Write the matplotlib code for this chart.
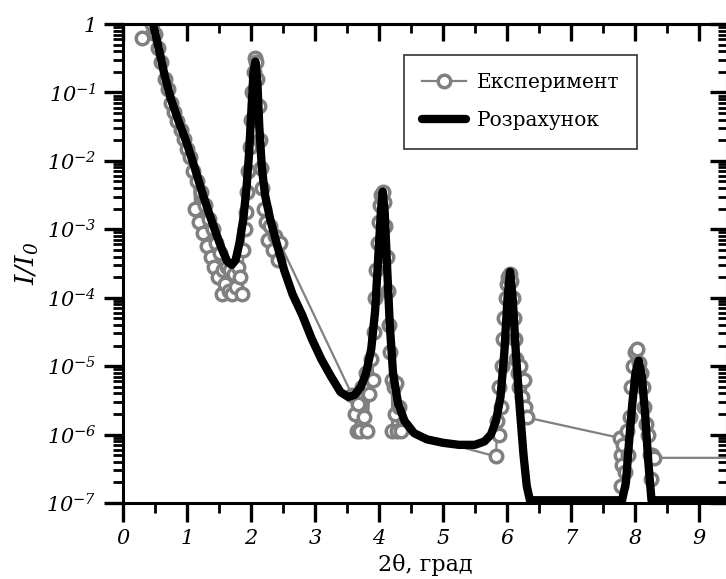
import numpy as np
import matplotlib.pyplot as plt
from matplotlib.ticker import FixedLocator, MultipleLocator, NullFormatter

plt.rcParams['font.family'] = ['DejaVu Serif']
plt.rcParams['mathtext.fontset'] = 'custom'
plt.rcParams['mathtext.rm'] = 'DejaVu Serif:italic'
plt.rcParams['mathtext.it'] = 'DejaVu Serif:italic'
plt.rcParams['mathtext.bf'] = 'DejaVu Serif:bold'

# --- розрахунок (x, lg I/I0) ---
calc_x = [0.30, 0.40, 0.47, 0.52, 0.58, 0.65, 0.75, 0.88, 1.00, 1.12, 1.25, 1.35,
          1.45, 1.55, 1.63, 1.70, 1.76, 1.82, 1.88, 1.93, 1.97, 2.01, 2.04, 2.07,
          2.10, 2.13, 2.17, 2.22, 2.30, 2.40, 2.52, 2.65, 2.80, 2.95, 3.10, 3.25,
          3.40, 3.52, 3.62, 3.72, 3.80, 3.88, 3.94, 3.99, 4.03, 4.06, 4.09, 4.13,
          4.17, 4.22, 4.30, 4.40, 4.55, 4.75, 5.00, 5.25, 5.50, 5.65, 5.75, 5.83,
          5.90, 5.96, 6.01, 6.05, 6.09, 6.14, 6.20, 6.26, 6.31, 6.36, 6.45, 7.80,
          7.86, 7.91, 7.96, 8.01, 8.06, 8.11, 8.16, 8.21, 8.26, 9.60]
calc_lg = [0.35, 0.15, 0.0, -0.2, -0.45, -0.75, -1.1, -1.45, -1.75, -2.1, -2.5, -2.78,
           -3.05, -3.3, -3.47, -3.52, -3.45, -3.2, -2.85, -2.4, -1.9, -1.2, -0.7, -0.55,
           -0.85, -1.5, -2.1, -2.5, -2.85, -3.2, -3.6, -3.95, -4.25, -4.6, -4.9, -5.15,
           -5.38, -5.45, -5.42, -5.3, -5.1, -4.75, -4.2, -3.4, -2.75, -2.45, -2.75, -3.6,
           -4.4, -5.1, -5.55, -5.8, -5.98, -6.07, -6.12, -6.15, -6.15, -6.1, -6.0, -5.8,
           -5.45, -4.8, -4.0, -3.62, -4.0, -4.8, -5.6, -6.3, -6.75, -6.96, -6.96, -6.96,
           -6.7, -6.1, -5.55, -5.1, -4.92, -5.15, -5.7, -6.4, -6.96, -6.96]

# --- експеримент (x, lg I/I0) ---
exp_x = [0.30, 0.45, 0.50, 0.55, 0.60, 0.65, 0.70, 0.75, 0.80, 0.85, 0.90, 0.95,
         1.00, 1.05, 1.10, 1.13, 1.16, 1.19, 1.22, 1.25, 1.28, 1.31, 1.34, 1.37,
         1.40, 1.43, 1.46, 1.49, 1.52, 1.54, 1.56, 1.59, 1.62, 1.65, 1.68, 1.71,
         1.74, 1.77, 1.80, 1.83, 1.86, 1.88, 1.90, 1.92, 1.94, 1.96, 1.98, 2.00,
         2.02, 2.04, 2.06, 2.08, 2.10, 2.12, 2.14, 2.16, 2.18, 2.20, 2.23, 2.26,
         2.30, 2.34, 2.38, 2.42, 2.45,
         3.58, 3.62, 3.65, 3.68, 3.71, 3.74, 3.77, 3.80, 3.82, 3.85, 3.87, 3.90,
         3.92, 3.94, 3.96, 3.98, 4.00, 4.02, 4.04, 4.06, 4.08, 4.10, 4.12, 4.14,
         4.16, 4.18, 4.20, 4.21, 4.23, 4.25, 4.27, 4.29, 4.32, 4.35,
         5.83, 5.85, 5.87, 5.88, 5.90, 5.92, 5.94, 5.96, 5.98, 6.00, 6.02, 6.05,
         6.07, 6.09, 6.11, 6.13, 6.15, 6.17, 6.19, 6.21, 6.23, 6.26, 6.29, 6.31,
         7.77, 7.79, 7.80, 7.79, 7.82, 7.85, 7.87, 7.90, 7.92, 7.94, 7.97, 8.00,
         8.03, 8.06, 8.09, 8.12, 8.15, 8.18, 8.21, 8.23, 8.25, 8.27, 8.30, 9.60]
exp_lg = [-0.2, 0.0, -0.15, -0.35, -0.55, -0.8, -0.95, -1.15, -1.28, -1.42, -1.55, -1.68,
          -1.82, -1.95, -2.15, -2.7, -2.3, -2.9, -2.45, -3.05, -2.65, -3.25, -2.85, -3.4,
          -3.0, -3.55, -3.2, -3.7, -3.35, -3.95, -3.6, -3.8, -3.55, -3.9, -3.6, -3.95,
          -3.65, -3.85, -3.55, -3.7, -3.95, -3.3, -3.0, -2.75, -2.45, -2.15, -1.8, -1.4,
          -1.0, -0.7, -0.5, -0.55, -0.8, -1.2, -1.7, -2.1, -2.4, -2.7, -2.9, -3.15,
          -2.95, -3.3, -3.1, -3.45, -3.2,
          -5.42, -5.7, -5.95, -5.55, -5.95, -5.3, -5.75, -5.1, -5.95, -5.4, -4.9, -5.2,
          -4.5, -4.0, -3.6, -3.2, -2.9, -2.65, -2.5, -2.45, -2.6, -2.95, -3.4, -3.9,
          -4.4, -4.8, -5.2, -5.95, -5.3, -5.7, -5.25, -5.95, -5.6, -5.95,
          -6.32, -5.8, -6.0, -5.3, -5.6, -5.0, -4.6, -4.3, -4.0, -3.8, -3.7, -3.65,
          -3.75, -4.0, -4.3, -4.6, -4.9, -5.1, -5.3, -5.0, -5.45, -5.2, -5.6, -5.75,
          -6.05, -6.3, -6.45, -6.75, -6.15, -6.55, -5.95, -6.3, -5.75, -5.3, -5.0, -4.8,
          -4.75, -4.95, -5.1, -5.3, -5.6, -5.85, -6.0, -6.3, -6.65, -6.3, -6.34, -6.34]

x_ticks = [0, 1, 2, 3, 4, 5, 6, 7, 8, 9]
x_labels = [str(v) for v in x_ticks]
y_ticks = [1, 1e-1, 1e-2, 1e-3, 1e-4, 1e-5, 1e-6, 1e-7]
y_labels = ['1', '$10^{-1}$', '$10^{-2}$', '$10^{-3}$', '$10^{-4}$',
            '$10^{-5}$', '$10^{-6}$', '$10^{-7}$']

fig = plt.figure(figsize=(7.26, 5.79), dpi=100)
ax = fig.add_axes([123/726, 76/579, 604/726, 479/579])

ax.plot(exp_x, 10 ** np.array(exp_lg), '-o', color='#808080', lw=1.6,
        ms=9, mew=2.5, mfc='white', mec='#808080', label='Експеримент', zorder=2)
ax.plot(calc_x, 10 ** np.array(calc_lg), '-', color='black', lw=6,
        solid_capstyle='round', label='Розрахунок', zorder=3)

ax.set_yscale('log')
ax.set_xlim(0, 9.44)
ax.set_ylim(1e-7, 1)

ax.xaxis.set_major_locator(FixedLocator(x_ticks))
ax.xaxis.set_minor_locator(MultipleLocator(0.5))
ax.set_xticklabels(x_labels)
ax.yaxis.set_major_locator(FixedLocator(y_ticks))
ax.set_yticklabels(y_labels)
minors = [m * 10.0 ** e for e in range(-7, 0) for m in range(2, 10)]
ax.yaxis.set_minor_locator(FixedLocator(minors))
ax.yaxis.set_minor_formatter(NullFormatter())

for s in ax.spines.values():
    s.set_linewidth(2.2)
ax.tick_params(which='major', direction='out', length=14, width=2.4, labelsize=15, pad=5)
ax.tick_params(which='minor', direction='out', length=7.5, width=2.0)

# верхня і права осі з рисками всередину
top = ax.secondary_xaxis('top')
top.xaxis.set_major_locator(FixedLocator(x_ticks))
top.xaxis.set_minor_locator(MultipleLocator(0.5))
top.tick_params(which='major', direction='in', length=12, width=2.4, labeltop=False)
top.tick_params(which='minor', direction='in', length=6.5, width=2.0)
top.spines['top'].set_linewidth(2.2)
right = ax.secondary_yaxis('right')
right.yaxis.set_major_locator(FixedLocator(y_ticks))
right.yaxis.set_minor_locator(FixedLocator(minors))
right.yaxis.set_minor_formatter(NullFormatter())
right.tick_params(which='major', direction='in', length=12, width=2.4, labelright=False)
right.tick_params(which='minor', direction='in', length=6.5, width=2.0)

ax.set_xlabel('2θ, град', fontsize=16, labelpad=4)
ax.set_ylabel('$I/I_0$', fontsize=19, labelpad=4)

leg = ax.legend(loc='upper right', bbox_to_anchor=(0.851, 0.935), fontsize=14.5,
                frameon=True, fancybox=False, edgecolor='black', handlelength=2.2,
                borderpad=0.9, labelspacing=0.95, handletextpad=0.5, borderaxespad=0)
leg.get_frame().set_linewidth(1.2)

for lab in ax.get_xticklabels() + ax.get_yticklabels():
    lab.set_fontstyle('italic')

fig.savefig('out.png', dpi=100)
